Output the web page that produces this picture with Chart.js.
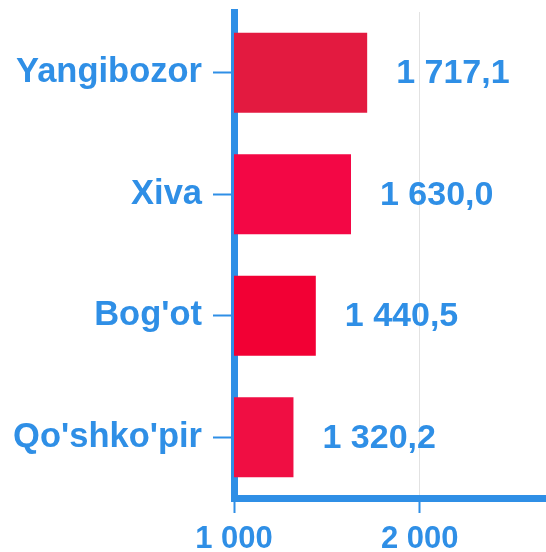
<!DOCTYPE html>
<html>
<head>
<meta charset="utf-8">
<script src="https://cdn.jsdelivr.net/npm/chart.js@4/dist/chart.umd.min.js"></script>
<style>
  html, body { margin: 0; padding: 0; background: #ffffff; }
  #wrap { width: 546px; height: 552px; }
</style>
</head>
<body>
<div id="wrap"><canvas id="c" width="546" height="552"></canvas></div>
<script>
const categories = ["Yangibozor", "Xiva", "Bog'ot", "Qo'shko'pir"];
const values = [1717.1, 1630.0, 1440.5, 1320.2];
const barColors = ["#e31a40", "#f30745", "#f20034", "#f00e43"];
const xTicks = [1000, 2000];

const BLUE = "#2f8fe6";
const FONT = "'Liberation Sans', Arial, sans-serif";

function fmt(v, dec) {
  const s = v.toFixed(dec);
  const parts = s.split(".");
  const intPart = parts[0].replace(/\B(?=(\d{3})+(?!\d))/g, " ");
  return parts.length > 1 ? intPart + "," + parts[1] : intPart;
}

const valueLabels = {
  id: "valueLabels",
  afterDatasetsDraw(chart) {
    const ctx = chart.ctx;
    const meta = chart.getDatasetMeta(0);
    ctx.save();
    ctx.font = "bold 34px " + FONT;
    ctx.fillStyle = BLUE;
    ctx.textAlign = "left";
    ctx.textBaseline = "middle";
    meta.data.forEach((bar, i) => {
      ctx.fillText(fmt(values[i], 1), bar.x + 29, bar.y + 1);
    });
    ctx.restore();
  }
};

new Chart(document.getElementById("c"), {
  type: "bar",
  data: {
    labels: categories,
    datasets: [{
      data: values,
      backgroundColor: barColors,
      borderWidth: 0,
      categoryPercentage: 1,
      barPercentage: 0.66
    }]
  },
  options: {
    indexAxis: "y",
    responsive: false,
    animation: false,
    devicePixelRatio: 1,
    layout: { padding: { top: 12, right: 0, left: 0, bottom: 0 } },
    plugins: { legend: { display: false }, tooltip: { enabled: false } },
    scales: {
      x: {
        min: 1000,
        max: 2680,
        afterBuildTicks: (s) => { s.ticks = xTicks.map(v => ({ value: v })); },
        afterFit: (s) => { s.height = 54; s.paddingLeft = 0; s.paddingRight = 0; },
        border: { display: true, color: BLUE, width: 7 },
        grid: {
          display: true,
          drawOnChartArea: true,
          color: "#e2e2e2",
          lineWidth: 1,
          drawTicks: true,
          tickLength: 15,
          tickColor: BLUE,
          tickWidth: 2
        },
        ticks: {
          color: BLUE,
          font: { family: FONT, size: 31, weight: "bold" },
          padding: 8,
          maxRotation: 0,
          callback: (v) => fmt(v, 0)
        }
      },
      y: {
        afterFit: (s) => { s.width = 234; s.paddingTop = 0; s.paddingBottom = 0; },
        border: { display: true, color: BLUE, width: 7 },
        grid: {
          display: true,
          offset: false,
          drawOnChartArea: false,
          drawTicks: true,
          tickLength: 21,
          tickColor: BLUE,
          tickWidth: 2
        },
        ticks: {
          color: BLUE,
          font: { family: FONT, size: 34.5, weight: "bold" },
          padding: 11
        }
      }
    }
  },
  plugins: [valueLabels]
});
</script>
</body>
</html>
